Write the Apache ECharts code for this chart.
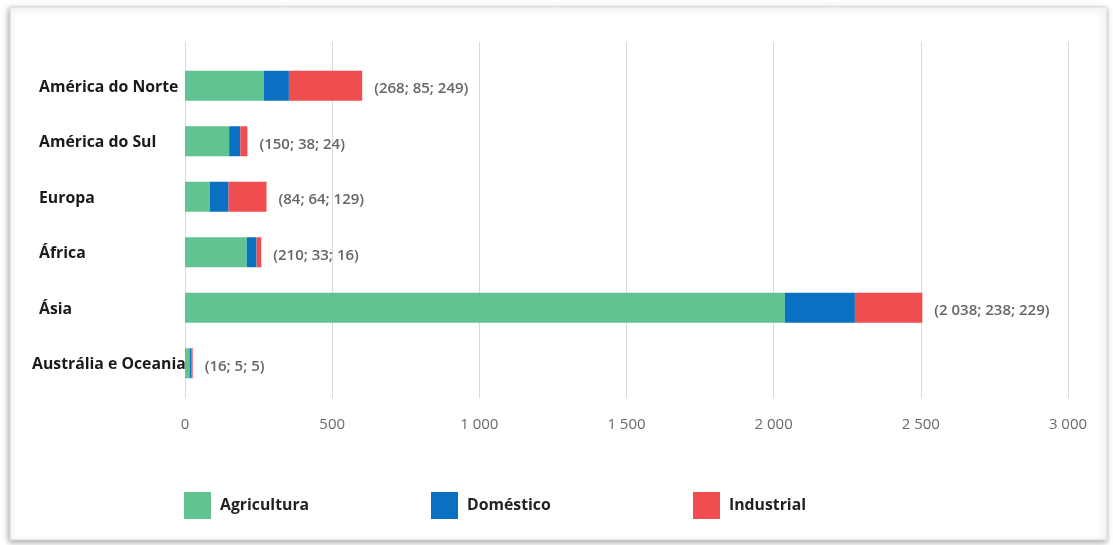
<!DOCTYPE html>
<html>
<head>
<meta charset="utf-8">
<script src="https://cdn.jsdelivr.net/npm/echarts@6/dist/echarts.min.js"></script>
<style>
html,body{margin:0;padding:0;background:#fff;}
#c{width:1113px;height:545px;}
</style>
</head>
<body>
<div id="c"></div>
<script>
var categories = ['América do Norte', 'América do Sul', 'Europa', 'África', 'Ásia', 'Austrália e Oceania'];
var agricultura = [268, 150, 84, 210, 2038, 16];
var domestico = [85, 38, 64, 33, 238, 5];
var industrial = [249, 24, 129, 16, 229, 5];
var xTicks = [0, 500, 1000, 1500, 2000, 2500, 3000];

function fmt(n) {
  return String(n).replace(/\B(?=(\d{3})+(?!\d))/g, ' ');
}

var chart = echarts.init(document.getElementById('c'));
var font = '"Open Sans", "Noto Sans", sans-serif';
var legendText = { fontFamily: font, fontWeight: 'bold', fontSize: 15.8, color: '#222', padding: [7, 0, 0, 4] };

chart.setOption({
  animation: false,
  textStyle: { fontFamily: font },
  graphic: [{
    type: 'rect',
    shape: { x: 10, y: 7, width: 1097, height: 533 },
    style: { fill: '#fff', stroke: '#d8d8d8', lineWidth: 1, shadowBlur: 6, shadowColor: 'rgba(0,0,0,0.35)', shadowOffsetX: -1, shadowOffsetY: 2 },
    z: -10
  }],
  legend: [
    { data: ['Agricultura'], left: 179, top: 487, itemWidth: 27, itemHeight: 27, icon: 'rect', textStyle: legendText },
    { data: ['Doméstico'], left: 426, top: 487, itemWidth: 27, itemHeight: 27, icon: 'rect', textStyle: legendText },
    { data: ['Industrial'], left: 688, top: 487, itemWidth: 27, itemHeight: 27, icon: 'rect', textStyle: legendText }
  ],
  grid: [
    { left: 185, right: 45, top: 58, bottom: 154 },
    { left: 185, right: 45, top: 42, bottom: 147 }
  ],
  xAxis: [
    { gridIndex: 0, type: 'value', min: 0, max: 3000, show: false },
    {
      gridIndex: 1, type: 'value', min: 0, max: 3000, interval: 500,
      axisLine: { show: false }, axisTick: { show: false },
      splitLine: { show: true, lineStyle: { color: '#d9d9d9', width: 1 } },
      axisLabel: {
        margin: 19, color: '#6a6a6a', fontSize: 15, fontWeight: 500, fontFamily: font,
        formatter: function (v) { return xTicks.indexOf(v) >= 0 ? fmt(v) : ''; }
      }
    }
  ],
  yAxis: [
    {
      gridIndex: 0, type: 'category', data: categories, inverse: true,
      axisLine: { show: false }, axisTick: { show: false }, splitLine: { show: false },
      axisLabel: {
        align: 'left', margin: 146, color: '#1a1a1a', fontSize: 15.8, fontWeight: 'bold', fontFamily: font,
        padding: [3, 0, 0, 0],
        formatter: function (v) { return v === 'Austrália e Oceania' ? '{o|' + v + '}' : v; },
        rich: { o: { fontSize: 15.8, fontWeight: 'bold', color: '#1a1a1a', fontFamily: font, padding: [0, 0, 0, -7] } }
      }
    },
    { gridIndex: 1, type: 'value', show: false, min: 0, max: 1 }
  ],
  series: [
    { name: 'Agricultura', type: 'bar', stack: 't', xAxisIndex: 0, yAxisIndex: 0, data: agricultura, barWidth: 30, itemStyle: { color: '#62C392' } },
    { name: 'Doméstico', type: 'bar', stack: 't', xAxisIndex: 0, yAxisIndex: 0, data: domestico, barWidth: 30, itemStyle: { color: '#0A70C2' } },
    {
      name: 'Industrial', type: 'bar', stack: 't', xAxisIndex: 0, yAxisIndex: 0, data: industrial, barWidth: 30, itemStyle: { color: '#F04D51' },
      label: {
        show: true, position: 'right', distance: 12, offset: [0, 3], color: '#666', fontSize: 15, fontWeight: 600, fontFamily: font,
        formatter: function (p) {
          var i = p.dataIndex;
          return '(' + fmt(agricultura[i]) + '; ' + fmt(domestico[i]) + '; ' + fmt(industrial[i]) + ')';
        }
      }
    }
  ]
});
</script>
</body>
</html>
